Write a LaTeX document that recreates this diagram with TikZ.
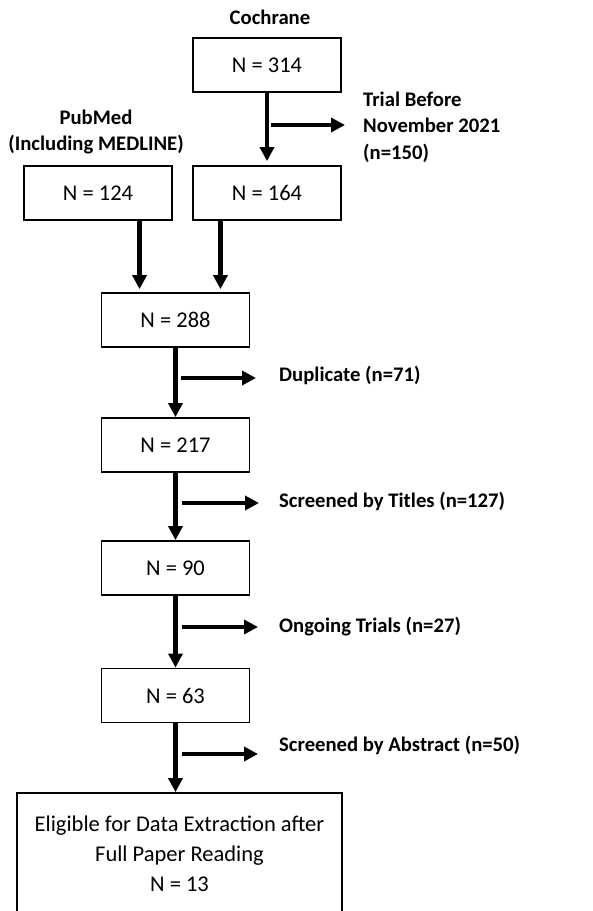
\documentclass[tikz,border=0pt]{standalone}
\usepackage{fontspec}
\setmainfont{Carlito}
\usetikzlibrary{arrows.meta, calc, positioning}

\begin{document}
\begin{tikzpicture}[x=1pt, y=-1pt,
    box/.style={draw, line width=1.8pt, minimum width=148pt, minimum height=54pt,
                inner sep=0pt, font=\fontsize{22.5}{30}\selectfont},
    lbl/.style={font=\bfseries\fontsize{20.7}{26.5}\selectfont, inner sep=0pt, align=left},
    arr/.style={-{Triangle[length=14pt, width=14pt]}, line width=4.5pt}
  ]
  \useasboundingbox (0,0) rectangle (593,911);

  % sources
  \node[lbl] (cochrane) at (270,17) {Cochrane};
  \node[lbl, align=center] (pubmed) at (96,132) {PubMed\\(Including MEDLINE)};
  \node[box] (n314) at (267,65) {N = 314};
  \node[box] (n124) at (98,193) {N = 124};
  \node[box] (n164) at (267,193) {N = 164};
  \node[lbl, anchor=west] (trial) at (363,127) {Trial Before\\November 2021\\(n=150)};

  % screening chain
  \node[box] (n288) at (175.5,320) {N = 288};
  \node[box] (n217) at (175.5,445) {N = 217};
  \node[box] (n90)  at (175.5,568) {N = 90};
  \node[box] (n63)  at (175.5,695.5) {N = 63};
  \node[box, minimum width=325pt, minimum height=122pt, align=center] (final) at (179.5,854)
    {Eligible for Data Extraction after\\Full Paper Reading\\N = 13};

  % excluded
  \node[lbl, anchor=west] (dup)  at (279,375) {Duplicate (n=71)};
  \node[lbl, anchor=west] (tit)  at (279,501) {Screened by Titles (n=127)};
  \node[lbl, anchor=west] (ongo) at (279,627) {Ongoing Trials (n=27)};
  \node[lbl, anchor=west] (abs)  at (279,745) {Screened by Abstract (n=50)};

  \coordinate (in1) at ($(n288.north west)!0.26!(n288.north east)$);
  \coordinate (in2) at ($(n288.north west)!0.8!(n288.north east)$);
  \coordinate (x314) at (271,125);
  \coordinate (x288) at (181,378);
  \coordinate (x217) at (182,503);
  \coordinate (x90)  at (182,627);
  \coordinate (x63)  at (182,754);

  \draw[arr, shorten >=4pt] (n314) -- (n164);
  \draw[arr, shorten >=3pt] (n124.south -| in1) -- (in1);
  \draw[arr, shorten >=3pt] (n164.south -| in2) -- (in2);
  \draw[arr] (n288) -- (n217);
  \draw[arr] (n217) -- (n90);
  \draw[arr] (n90) -- (n63);
  \draw[arr] (n63.south) -- (n63.south |- final.north);

  \draw[arr, shorten >=18pt] (x314) -- (x314 -| trial.west);
  \draw[arr, shorten >=23pt] (x288) -- (x288 -| dup.west);
  \draw[arr, shorten >=20pt] (x217) -- (x217 -| tit.west);
  \draw[arr, shorten >=21pt] (x90)  -- (x90 -| ongo.west);
  \draw[arr, shorten >=21pt] (x63)  -- (x63 -| abs.west);
\end{tikzpicture}
\end{document}
